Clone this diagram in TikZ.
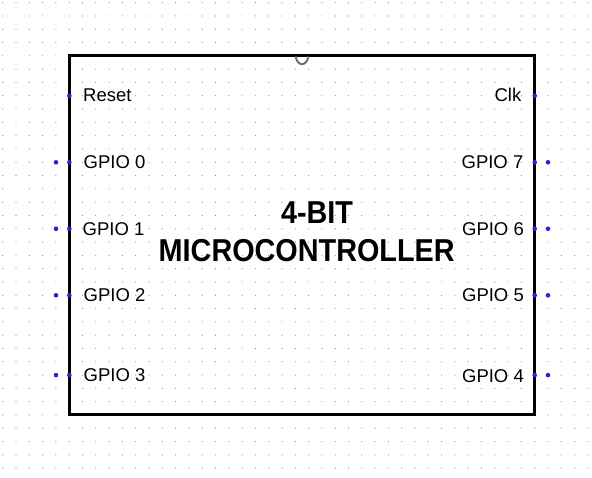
\documentclass[tikz,border=0pt]{standalone}
\usepackage{fontspec}
\setmainfont{Liberation Sans}
\definecolor{pinblue}{HTML}{2424DC}
\definecolor{griddot}{HTML}{8C8C8C}
\definecolor{notchgray}{HTML}{707070}
\tikzset{
  pindot/.style={circle, fill=pinblue, draw=none, minimum size=4.6pt, inner sep=0pt},
  lbl/.style={inner sep=0pt, font=\fontsize{18.5}{20}\selectfont},
  titletxt/.style={inner sep=0pt, font=\fontsize{28.8}{32}\selectfont\bfseries},
  chipbox/.style={draw=black, line width=3pt, inner sep=0pt}
}
\begin{document}
\begin{tikzpicture}[x=1pt,y=-1pt]
\useasboundingbox (0,0) rectangle (592,478);
\fill[white] (0,0) rectangle (592,478);
% dotted grid
\foreach \i in {0,...,44} {
  \foreach \j in {0,...,35} {
    \fill[griddot] (2.7+13.3*\i, 2.7+13.3*\j) circle (0.6pt);
  }
}
% chip body
\node[chipbox, minimum width=465.3pt, minimum height=359pt] (chip) at (302, 235.4) {};
% notch
\draw[notchgray, line width=2pt, line cap=round] (295.8,57) .. controls (297.5,66.5) and (306.5,66.5) .. (308.2,57);
% title
\node[titletxt, anchor=base] (t1) at (317, 223.3) {\scalebox{1}[1.1]{4-BIT}};
\node[titletxt, anchor=base] (t2) at (306.7, 261.7) {\scalebox{1}[1.1]{MICROCONTROLLER}};
% left pins
\node[pindot] (pReset) at (69.35, 95.8) {};
\node[pindot] (pL0i) at (69.35, 162.3) {};
\node[pindot] (pL0o) at (56, 162.3) {};
\node[pindot] (pL1i) at (69.35, 228.8) {};
\node[pindot] (pL1o) at (56, 228.8) {};
\node[pindot] (pL2i) at (69.35, 295.3) {};
\node[pindot] (pL2o) at (56, 295.3) {};
\node[pindot] (pL3i) at (69.35, 375.1) {};
\node[pindot] (pL3o) at (56, 375.1) {};
% right pins
\node[pindot] (pClk) at (534.7, 95.8) {};
\node[pindot] (pR7i) at (534.7, 162.3) {};
\node[pindot] (pR7o) at (548, 162.3) {};
\node[pindot] (pR6i) at (534.7, 228.8) {};
\node[pindot] (pR6o) at (548, 228.8) {};
\node[pindot] (pR5i) at (534.7, 295.3) {};
\node[pindot] (pR5o) at (548, 295.3) {};
\node[pindot] (pR4i) at (534.7, 375.1) {};
\node[pindot] (pR4o) at (548, 375.1) {};
% left labels
\node[lbl, anchor=base west] (lReset) at (83, 102.0) {Reset};
\node[lbl, anchor=base west] (lG0) at (83.5, 169.0) {GPIO 0};
\node[lbl, anchor=base west] (lG1) at (82.5, 235.3) {GPIO 1};
\node[lbl, anchor=base west] (lG2) at (83.5, 301.8) {GPIO 2};
\node[lbl, anchor=base west] (lG3) at (83.5, 381.6) {GPIO 3};
% right labels
\node[lbl, anchor=base east] (lClk) at (521.5, 101.5) {Clk};
\node[lbl, anchor=base east] (lG7) at (523.5, 168.8) {GPIO 7};
\node[lbl, anchor=base east] (lG6) at (524, 235.3) {GPIO 6};
\node[lbl, anchor=base east] (lG5) at (524, 301.8) {GPIO 5};
\node[lbl, anchor=base east] (lG4) at (524, 382.0) {GPIO 4};
\end{tikzpicture}
\end{document}
